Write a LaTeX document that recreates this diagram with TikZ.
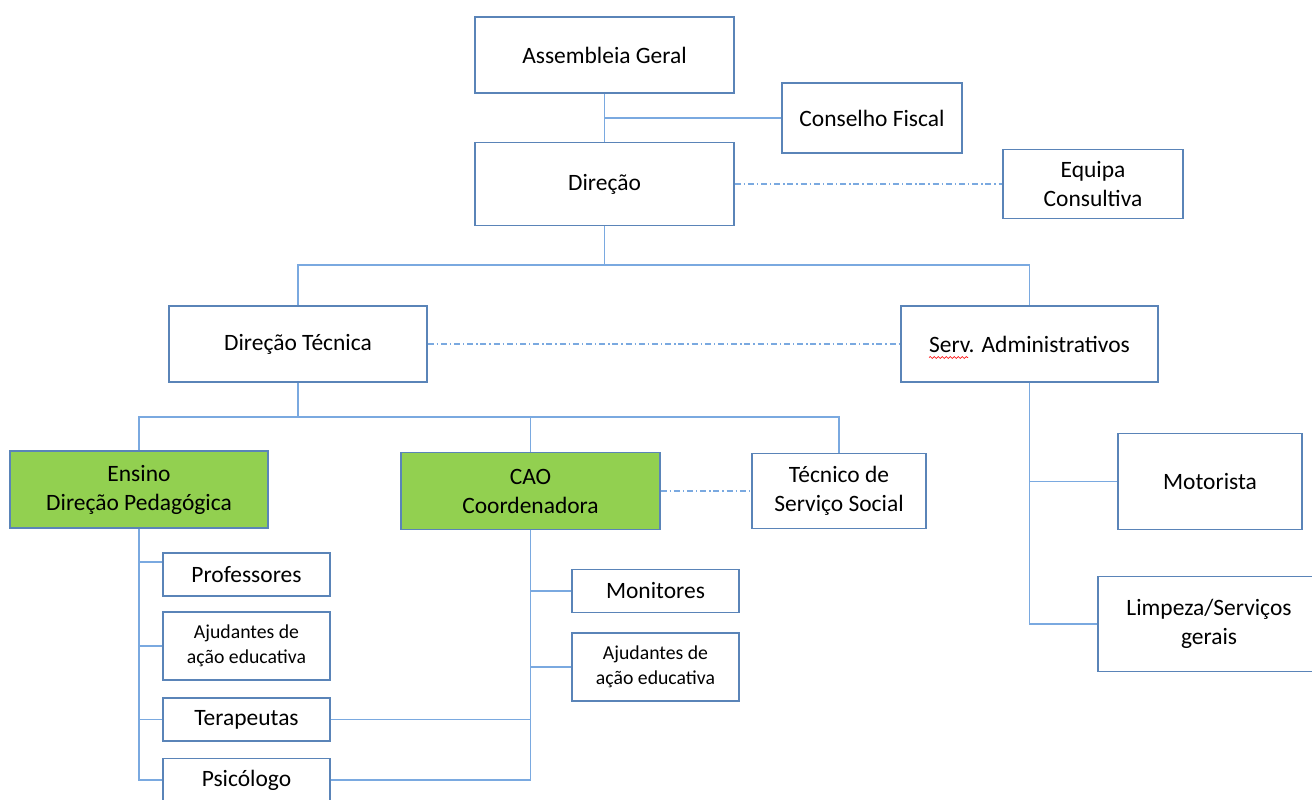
\documentclass[tikz,border=0pt]{standalone}
\usepackage{fontspec}
\setmainfont{Carlito}
\usetikzlibrary{decorations.pathmorphing}
\definecolor{boxline}{HTML}{5A84B8}
\definecolor{linkline}{HTML}{7AA9E0}
\definecolor{greenbox}{HTML}{92D050}
\newlength\pxu
\setlength\pxu{0.75pt}

\begin{document}
\begin{tikzpicture}[x=0.75pt, y=-0.75pt,
  box/.style={draw=boxline, line width=1pt, rectangle, align=center, inner sep=0pt, font=\fontsize{17.6}{21.8}\selectfont},
  smalltext/.style={font=\fontsize{14.8}{18.8}\selectfont},
  greenfill/.style={fill=greenbox},
  link/.style={draw=linkline, line width=1.4pt},
  dotlink/.style={draw=linkline, line width=0.9pt, dash pattern=on 4.5pt off 2.2pt on 1pt off 2.2pt}]
\useasboundingbox (0,0) rectangle (1312,799);

\node(AG) at (604.5,55)[box, minimum width=259\pxu, minimum height=76\pxu]{Assembleia Geral};
\node(CF) at (872,118)[box, minimum width=180\pxu, minimum height=70\pxu]{Conselho Fiscal};
\node(D) at (604.5,184)[box, minimum width=259\pxu, minimum height=83\pxu]{Direção};
\node(EC) at (1093,184)[box, minimum width=180\pxu, minimum height=69\pxu]{Equipa\\Consultiva};
\draw[link](AG)--(D);
\draw[link](CF)--(CF -| AG);
\draw[dotlink](D)--(EC);

\node(DT) at (298,344)[box, minimum width=258\pxu, minimum height=76\pxu]{Direção Técnica};
\node(SA) at (1029.5,344)[box, minimum width=257\pxu, minimum height=76\pxu]{Serv. Administrativos};
\coordinate(J1) at (604.5,265);
\draw[link](D)--(J1);
\draw[link](DT)|-(J1)-|(SA);
\draw[dotlink](DT)--(SA);
\draw[red, line width=0.5pt, decorate, decoration={snake, amplitude=0.7pt, segment length=3pt}](929,357.5)--(968,357.5);

\node(EN) at (139,489.5)[box, greenfill, minimum width=258\pxu, minimum height=77\pxu]{Ensino\\Direção Pedagógica};
\node(CAO) at (530.5,491)[box, greenfill, minimum width=259\pxu, minimum height=77\pxu]{CAO\\Coordenadora};
\node(TS) at (839,491)[box, minimum width=174\pxu, minimum height=75\pxu]{Técnico de\\Serviço Social};
\coordinate(J2) at (298,417);
\draw[link](DT)--(J2);
\draw[link](EN)|-(J2)-|(TS);
\draw[link](CAO)--(CAO |- J2);
\draw[dotlink](CAO)--(TS);

\node(PR) at (246.5,574.5)[box, minimum width=167\pxu, minimum height=43\pxu]{Professores};
\node(AJ1) at (246.5,646)[box, smalltext, minimum width=167\pxu, minimum height=68\pxu]{Ajudantes de\\ação educativa};
\node(TE) at (246.5,719.5)[box, minimum width=167\pxu, minimum height=43\pxu]{Terapeutas};
\node(PS) at (246.5,780)[box, minimum width=167\pxu, minimum height=43\pxu]{Psicólogo};
\coordinate(J3) at (139,562);
\draw[link](EN)|-(PS);
\draw[link](J3)--(J3 -| PR.west);
\draw[link](AJ1)--(AJ1 -| EN);
\draw[link](TE)--(TE -| EN);

\node(MO) at (655.5,591)[box, minimum width=167\pxu, minimum height=43\pxu]{Monitores};
\node(AJ2) at (655.5,667)[box, smalltext, minimum width=167\pxu, minimum height=68\pxu]{Ajudantes de\\ação educativa};
\draw[link](CAO)|-(PS);
\draw[link](TE)--(TE -| CAO);
\draw[link](MO)--(MO -| CAO);
\draw[link](AJ2)--(AJ2 -| CAO);

\node(MT) at (1210,481.5)[box, minimum width=184\pxu, minimum height=96\pxu]{Motorista};
\node(LS) at (1209,624)[box, minimum width=222\pxu, minimum height=95\pxu]{Limpeza/Serviços\\gerais};
\draw[link](SA)|-(LS);
\draw[link](MT)--(MT -| SA);

\end{tikzpicture}
\end{document}
